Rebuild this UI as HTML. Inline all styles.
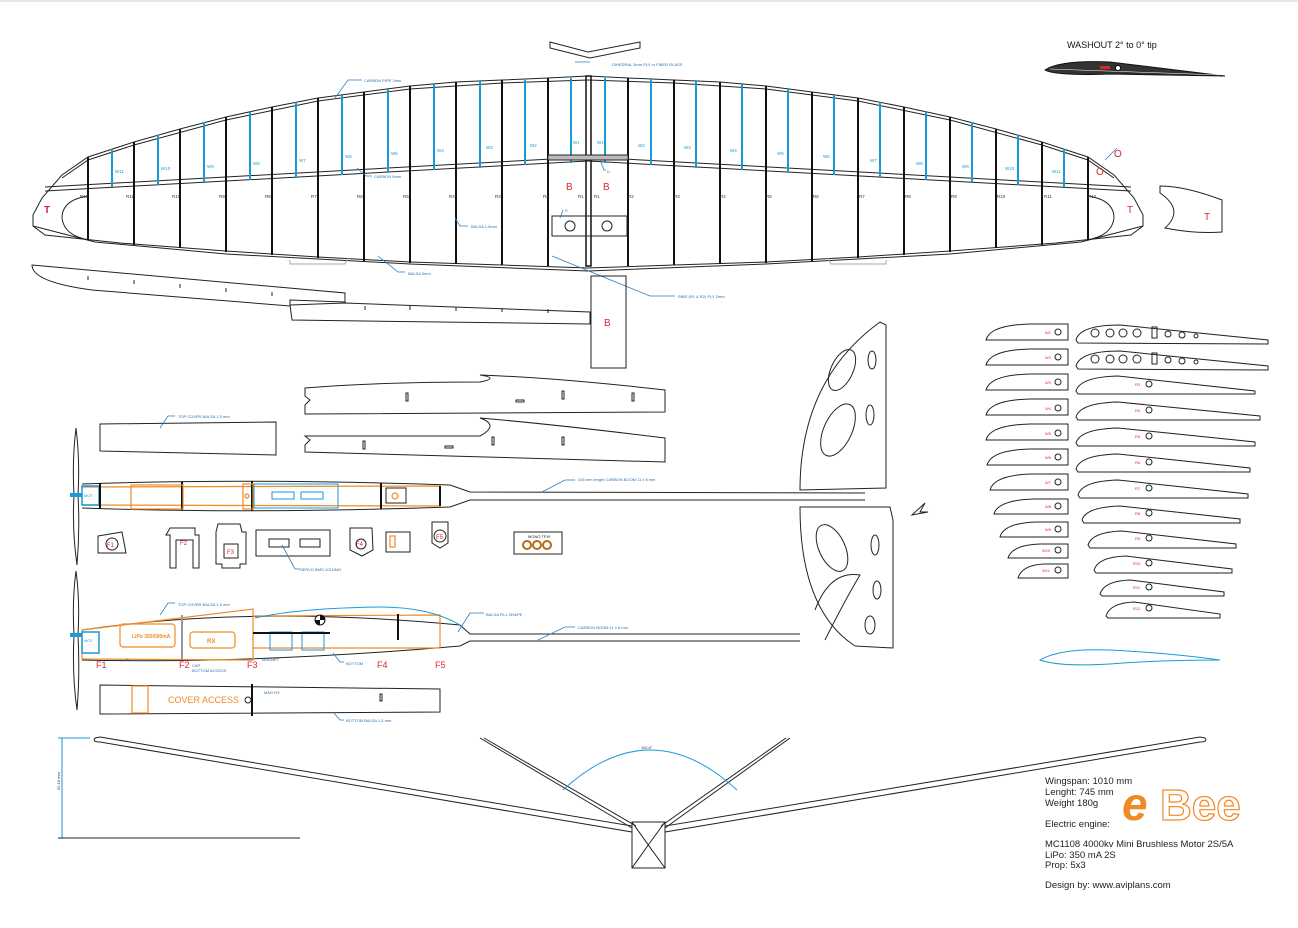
<!DOCTYPE html>
<html><head><meta charset="utf-8"><style>
html,body{margin:0;padding:0;background:#fff;}
svg{display:block;font-family:"Liberation Sans",sans-serif;}
.k{stroke:#222;fill:none;stroke-width:1}
.kt{stroke:#111;fill:none;stroke-width:2}
.b{stroke:#1a9ad6;fill:none;stroke-width:2}
.bl{stroke:#2a7fc0;fill:none;stroke-width:0.8}
.o{stroke:#f08a24;fill:none;stroke-width:1.2}
.t{font-size:4.5px;fill:#333}
.tb{font-size:4.5px;fill:#1a9ad6}
.tl{font-size:4px;fill:#2a6fb0}
.r{fill:#e0252e;font-size:10px}
</style></head><body>
<svg width="1298" height="928" viewBox="0 0 1298 928">
<rect width="1298" height="928" fill="#fff"/>
<line x1="0" y1="1" x2="1298" y2="1" stroke="#ccc"/>

<!-- ===== WING TOP VIEW ===== -->
<g id="wl">
<path class="k" d="M588,76 L548,78 502,80 456,82 410,86 364,92 318,98 272,107 226,117 180,129 134,142 88,157 62,175 42,198 33,215 33,226 45,235 120,243 226,251 318,257 410,262 502,265 588,268"/>
<path class="k" d="M588,80 L502,83 410,89 318,101 226,120 134,145 88,160 62,178"/>
<path class="k" d="M45,187 L588,157 M45,191 L588,161"/>
<path class="k" d="M88,196 Q62,200 62,218 Q64,236 90,240"/>
<path class="k" d="M33,226 L95,242 L226,254 L410,264 L588,271" />
<g class="kt">
<line x1="88" y1="157" x2="88" y2="240"/><line x1="134" y1="142" x2="134" y2="245"/>
<line x1="180" y1="129" x2="180" y2="248"/><line x1="226" y1="117" x2="226" y2="252"/>
<line x1="272" y1="107" x2="272" y2="255"/><line x1="318" y1="98" x2="318" y2="258"/>
<line x1="364" y1="92" x2="364" y2="261"/><line x1="410" y1="86" x2="410" y2="263"/>
<line x1="456" y1="82" x2="456" y2="264"/><line x1="502" y1="80" x2="502" y2="265"/>
<line x1="548" y1="78" x2="548" y2="266"/>
</g>
<g class="b">
<line x1="112" y1="149" x2="112" y2="187"/><line x1="158" y1="135" x2="158" y2="185"/>
<line x1="204" y1="122" x2="204" y2="182"/><line x1="250" y1="111" x2="250" y2="180"/>
<line x1="296" y1="102" x2="296" y2="178"/><line x1="342" y1="95" x2="342" y2="175"/>
<line x1="388" y1="89" x2="388" y2="173"/><line x1="434" y1="84" x2="434" y2="170"/>
<line x1="480" y1="81" x2="480" y2="168"/><line x1="525" y1="79" x2="525" y2="165"/>
<line x1="571" y1="78" x2="571" y2="163"/>
</g>
<path d="M290,260 L290,264 L345,264 L348,258" stroke="#aaa" fill="none"/>
</g>
<use href="#wl" transform="translate(1176,0) scale(-1,1)"/>
<!-- centre -->
<rect x="586" y="76" width="5" height="190" fill="none" stroke="#111" stroke-width="1.5"/>
<rect x="548" y="155" width="80" height="5" fill="#bbb" stroke="#222"/>
<rect x="552" y="216" width="75" height="20" class="k"/>
<circle cx="570" cy="226" r="5" class="k"/><circle cx="607" cy="226" r="5" class="k"/>
<text x="566" y="190" class="r" font-size="9">B</text><text x="603" y="190" class="r" font-size="9">B</text>
<text x="44" y="213" class="r" font-size="11" font-weight="bold">T</text>
<text x="1127" y="213" class="r" font-size="6">T</text>
<text x="1114" y="157" class="r" font-size="6">O</text><text x="1096" y="175" class="r" font-size="6">O</text>
<g class="t">
<text x="80" y="198">R12</text><text x="126" y="198">R11</text><text x="172" y="198">R10</text><text x="219" y="198">R9</text>
<text x="265" y="198">R8</text><text x="311" y="198">R7</text><text x="357" y="198">R6</text><text x="403" y="198">R5</text>
<text x="449" y="198">R4</text><text x="495" y="198">R3</text><text x="543" y="198">R2</text><text x="578" y="198">R1</text>
<text x="594" y="198">R1</text><text x="628" y="198">R2</text><text x="674" y="198">R3</text><text x="720" y="198">R4</text>
<text x="766" y="198">R5</text><text x="813" y="198">R6</text><text x="859" y="198">R7</text><text x="905" y="198">R8</text>
<text x="951" y="198">R9</text><text x="997" y="198">R10</text><text x="1044" y="198">R11</text><text x="1088" y="198">R12</text>
</g>
<g class="tb">
<text x="115" y="173">W11</text><text x="161" y="170">W10</text><text x="207" y="168">W9</text><text x="253" y="165">W8</text>
<text x="299" y="162">W7</text><text x="345" y="158">W6</text><text x="391" y="155">W5</text><text x="437" y="152">W4</text>
<text x="486" y="149">W3</text><text x="530" y="147">W2</text><text x="573" y="144">W1</text><text x="597" y="144">W1</text>
<text x="638" y="147">W2</text><text x="684" y="149">W3</text><text x="730" y="152">W4</text><text x="777" y="155">W5</text>
<text x="823" y="158">W6</text><text x="870" y="162">W7</text><text x="916" y="165">W8</text><text x="962" y="168">W9</text>
<text x="1005" y="170">W10</text><text x="1052" y="173">W11</text>
</g>
<g class="bl"><path d="M335,98 L348,80 L362,80"/><path d="M357,168 L366,176 L372,176"/><path d="M378,256 L398,272 L405,272"/>
<path d="M552,256 L650,296 L675,296"/><path d="M455,218 L460,226 L468,226"/><path d="M600,160 L604,170 L606,170"/>
<path d="M575,62 L590,62 M560,218 L563,210"/><path d="M1105,160 L1117,148"/></g>
<g class="tl"><text x="364" y="82">CARBON PIPE 2mm</text><text x="374" y="178">CARBON 5mm</text><text x="408" y="275">BALSA 3mm</text>
<text x="678" y="298">RIBS (R1 &amp; R2) PLY 2mm</text><text x="471" y="228">BALSA 1,5mm</text><text x="607" y="173">D</text><text x="565" y="212">S</text>
<text x="612" y="66">DIHEDRAL 3mm PLY or FIBER GLASS</text></g>

<!-- dihedral piece -->
<path class="k" d="M550,42 L588,52 L640,42 L640,48 L590,58 L550,48 Z"/>
<!-- washout -->
<text x="1067" y="48" font-size="9" fill="#111">WASHOUT 2° to 0° tip</text>
<path d="M1045,70 Q1060,60 1110,62 L1225,76 L1110,74 Q1055,76 1045,70Z" fill="#333" stroke="#111"/>
<path d="M1050,69 L1220,75" stroke="#fff" stroke-width="0.5"/>
<rect x="1100" y="66" width="10" height="3" fill="#e0252e"/><circle cx="1118" cy="68" r="2.5" fill="#fff" stroke="#111"/>
<!-- tip piece -->
<path class="k" d="M1160,186 Q1185,186 1222,200 L1222,232 Q1195,234 1165,228 Q1185,210 1160,193Z"/>
<text x="1204" y="220" class="r" font-size="6">T</text>

<!-- spar strips -->
<path class="k" d="M32,265 L345,293 L345,302 L290,300 L290,306 L92,290 Q32,282 32,265Z"/>
<path class="k" d="M290,305 L345,303 L590,312 L590,324 L292,320Z"/>
<g class="k"><line x1="88" y1="276" x2="88" y2="280"/><line x1="134" y1="280" x2="134" y2="284"/><line x1="180" y1="284" x2="180" y2="288"/><line x1="226" y1="288" x2="226" y2="292"/><line x1="272" y1="292" x2="272" y2="296"/><line x1="365" y1="306" x2="365" y2="310"/><line x1="410" y1="306" x2="410" y2="310"/><line x1="456" y1="307" x2="456" y2="311"/><line x1="502" y1="308" x2="502" y2="312"/><line x1="548" y1="309" x2="548" y2="313"/></g>
<rect x="591" y="276" width="35" height="92" class="k"/>
<text x="604" y="326" class="r" font-size="9">B</text>

<!-- airfoil ribs stack -->
<g class="k">
<path d="M986,340 Q990,325 1030,324 L1068,324 L1068,340Z"/><path d="M986,365 Q990,350 1030,349 L1068,349 L1068,365Z"/>
<path d="M986,390 Q990,375 1030,374 L1068,374 L1068,390Z"/><path d="M986,415 Q990,400 1030,399 L1068,399 L1068,415Z"/>
<path d="M986,440 Q990,425 1030,424 L1068,424 L1068,440Z"/><path d="M987,465 Q991,450 1030,449 L1068,449 L1068,465Z"/>
<path d="M990,490 Q994,475 1032,474 L1068,474 L1068,490Z"/><path d="M994,514 Q998,500 1034,499 L1068,499 L1068,514Z"/>
<path d="M1000,537 Q1004,523 1036,522 L1068,522 L1068,537Z"/><path d="M1008,558 Q1012,545 1040,544 L1068,544 L1068,558Z"/>
<path d="M1018,578 Q1022,565 1044,564 L1068,564 L1068,578Z"/>
<path d="M1076,340 Q1080,325 1120,325 L1268,340 L1268,344 L1078,343Z"/><path d="M1076,366 Q1080,351 1120,351 L1268,366 L1268,370 L1078,369Z"/>
<path d="M1076,391 Q1080,377 1118,376 L1255,391 L1255,394 L1078,394Z"/><path d="M1076,417 Q1080,403 1118,402 L1260,416 L1260,420 L1078,420Z"/>
<path d="M1076,443 Q1080,429 1118,428 L1255,442 L1255,446 L1078,446Z"/><path d="M1076,469 Q1080,455 1118,454 L1250,468 L1250,472 L1078,472Z"/>
<path d="M1078,495 Q1082,481 1118,480 L1248,494 L1248,498 L1080,498Z"/><path d="M1082,520 Q1086,507 1120,506 L1240,519 L1240,523 L1084,523Z"/>
<path d="M1088,545 Q1092,532 1122,531 L1236,544 L1236,548 L1090,548Z"/><path d="M1094,570 Q1098,557 1126,556 L1232,569 L1232,573 L1096,573Z"/>
<path d="M1100,594 Q1104,581 1130,580 L1224,592 L1224,596 L1102,596Z"/><path d="M1106,616 Q1110,603 1134,602 L1220,614 L1220,618 L1108,618Z"/>
</g>
<g fill="none" stroke="#222"><circle cx="1058" cy="332" r="3"/><circle cx="1058" cy="357" r="3"/><circle cx="1058" cy="382" r="3"/><circle cx="1058" cy="408" r="3"/><circle cx="1058" cy="433" r="3"/><circle cx="1058" cy="457" r="3"/><circle cx="1058" cy="482" r="3"/><circle cx="1058" cy="506" r="3"/><circle cx="1058" cy="529" r="3"/><circle cx="1058" cy="550" r="3"/><circle cx="1058" cy="570" r="3"/>
<circle cx="1095" cy="333" r="4"/><circle cx="1110" cy="333" r="4"/><circle cx="1123" cy="333" r="4"/><circle cx="1137" cy="333" r="4"/><rect x="1152" y="327" width="5" height="11"/><circle cx="1168" cy="334" r="3"/><circle cx="1182" cy="335" r="3"/><circle cx="1196" cy="336" r="2"/>
<circle cx="1095" cy="359" r="4"/><circle cx="1110" cy="359" r="4"/><circle cx="1123" cy="359" r="4"/><circle cx="1137" cy="359" r="4"/><rect x="1152" y="353" width="5" height="11"/><circle cx="1168" cy="360" r="3"/><circle cx="1182" cy="361" r="3"/><circle cx="1196" cy="362" r="2"/>
<circle cx="1149" cy="384" r="3"/><circle cx="1149" cy="410" r="3"/><circle cx="1149" cy="436" r="3"/><circle cx="1149" cy="462" r="3"/><circle cx="1149" cy="488" r="3"/><circle cx="1149" cy="513" r="3"/><circle cx="1149" cy="538" r="3"/><circle cx="1149" cy="563" r="3"/><circle cx="1149" cy="587" r="3"/><circle cx="1149" cy="608" r="3"/></g>
<g fill="#e0252e" font-size="4">
<text x="1045" y="334">W1</text><text x="1045" y="359">W2</text><text x="1045" y="384">W3</text><text x="1045" y="410">W4</text><text x="1045" y="435">W5</text><text x="1045" y="459">W6</text><text x="1045" y="484">W7</text><text x="1045" y="508">W8</text><text x="1045" y="531">W9</text><text x="1042" y="552">W10</text><text x="1042" y="572">W11</text>
<text x="1135" y="386">R3</text><text x="1135" y="412">R4</text><text x="1135" y="438">R5</text><text x="1135" y="464">R6</text><text x="1135" y="490">R7</text><text x="1135" y="515">R8</text><text x="1135" y="540">R9</text><text x="1133" y="565">R10</text><text x="1133" y="589">R11</text><text x="1133" y="610">R12</text></g>

<!-- fuselage side pieces -->
<path class="k" d="M305,388 Q380,382 480,382 Q500,378 480,375 Q560,378 665,390 L665,412 L305,414 L305,405 L310,400 L305,396Z"/>
<path class="k" d="M305,436 L480,436 Q500,425 480,418 Q560,425 665,438 L665,462 L305,452 L305,445 L310,440Z"/>
<g class="k"><rect x="406" y="393" width="2" height="8"/><rect x="516" y="400" width="8" height="2"/><rect x="562" y="391" width="2" height="8"/><rect x="632" y="393" width="2" height="8"/>
<rect x="363" y="441" width="2" height="8"/><rect x="445" y="446" width="8" height="2"/><rect x="492" y="437" width="2" height="8"/><rect x="562" y="437" width="2" height="8"/></g>
<!-- top cover -->
<path class="k" d="M100,424 L276,422 L276,455 L100,451Z"/>
<path class="bl" d="M160,428 L168,416 L175,416"/><text x="178" y="418" class="tl">TOP COVER BALSA 1,5 mm</text>

<!-- propellers -->
<path d="M76,428 Q72,460 74,495 Q72,530 77,565 Q80,530 78,495 Q80,460 76,428Z" fill="#fff" stroke="#222"/>
<path d="M76,571 Q72,600 74,635 Q72,675 77,710 Q80,675 78,635 Q80,600 76,571Z" fill="#fff" stroke="#222"/>
<rect x="70" y="493" width="12" height="4" fill="#1a9ad6"/><rect x="70" y="633" width="12" height="4" fill="#1a9ad6"/>

<!-- fuselage top view -->
<path class="k" d="M82,484 Q250,478 450,485 L470,492 L865,493 M82,508 Q250,514 450,507 L470,500 L865,500"/>
<path class="o" d="M82,487 L440,486 L440,506 L82,505"/>
<rect x="82" y="486" width="17" height="19" fill="none" stroke="#1a9ad6" stroke-width="1.5"/><text x="84" y="497" font-size="4" fill="#1a9ad6">MOT</text>
<line x1="100" y1="483" x2="100" y2="509" class="kt"/><line x1="182" y1="482" x2="182" y2="510" class="kt"/><line x1="252" y1="481" x2="252" y2="511" class="kt"/><line x1="381" y1="483" x2="381" y2="509" class="kt"/><line x1="440" y1="486" x2="440" y2="506" class="kt"/>
<rect x="131" y="485" width="52" height="24" class="o"/><rect x="243" y="484" width="10" height="25" class="o"/>
<circle cx="247" cy="496" r="2" class="o"/>
<rect x="254" y="484" width="84" height="24" fill="none" stroke="#1a9ad6"/><rect x="272" y="492" width="22" height="7" fill="none" stroke="#1a9ad6"/><rect x="301" y="492" width="22" height="7" fill="none" stroke="#1a9ad6"/>
<rect x="386" y="488" width="20" height="15" class="k"/><circle cx="395" cy="496" r="3" class="o"/>
<path class="bl" d="M540,493 L565,480 L575,480"/><text x="578" y="481" class="tl">435 mm lenght CARBON BOOM 11 x 8 mm</text>

<!-- vertical tail -->
<path class="k" d="M800,490 Q800,380 880,322 L886,325 L886,488Z"/>
<path class="k" d="M800,507 L890,507 L893,520 L893,648 L855,646 Q800,610 800,507Z"/>
<g class="k"><ellipse cx="842" cy="370" rx="11" ry="22" transform="rotate(25 842 370)"/><ellipse cx="838" cy="430" rx="14" ry="28" transform="rotate(25 838 430)"/><ellipse cx="872" cy="360" rx="4" ry="9"/><ellipse cx="870" cy="415" rx="4" ry="10"/>
<ellipse cx="832" cy="548" rx="13" ry="25" transform="rotate(-25 832 548)"/><ellipse cx="875" cy="545" rx="4" ry="10"/><ellipse cx="877" cy="590" rx="4" ry="9"/><ellipse cx="870" cy="625" rx="5" ry="9"/>
<path d="M815,610 Q830,570 860,575 Q845,600 825,640"/></g>
<path class="k" d="M912,515 L925,503 L920,512 L928,512Z"/>

<!-- formers row -->
<g class="k">
<path d="M98,536 L122,532 L126,553 L98,553Z"/><circle cx="112" cy="544" r="6"/>
<path d="M170,528 L195,528 L195,535 L199,535 L199,568 L193,568 L193,540 L176,540 L176,568 L170,568 L170,535 L166,535Z"/>
<path d="M218,524 L240,524 L242,532 L246,532 L246,564 L240,564 L240,568 L222,568 L222,564 L216,564 L216,532Z"/><rect x="224" y="544" width="14" height="14"/>
<rect x="256" y="530" width="74" height="26"/><rect x="269" y="539" width="20" height="8"/><rect x="300" y="539" width="20" height="8"/>
<path d="M350,528 L372,528 L373,550 L362,556 L350,550Z"/><circle cx="361" cy="544" r="5"/>
<rect x="386" y="532" width="24" height="20"/><rect x="390" y="536" width="5" height="11" class="o"/>
<path d="M432,522 L448,522 L448,543 L440,548 L432,543Z"/><circle cx="440" cy="536" r="6"/>
<rect x="514" y="532" width="48" height="22"/>
</g>
<g fill="#e0252e" font-size="6"><text x="107" y="547">F1</text><text x="180" y="545">F2</text><text x="227" y="554">F3</text><text x="356" y="546">F4</text><text x="436" y="539">F5</text></g>
<g fill="none" stroke="#b56a1a" stroke-width="2"><circle cx="527" cy="545" r="4"/><circle cx="537" cy="545" r="4"/><circle cx="547" cy="545" r="4"/></g>
<text x="528" y="538" font-size="4" fill="#222">MONO TPIX</text>
<path class="bl" d="M282,545 L295,569 L300,569"/><text x="300" y="571" class="tl">SERVO BMS-101DMG</text>

<!-- fuselage side view -->
<path class="k" d="M82,630 Q250,605 460,625 L470,634 L800,634 M82,660 Q250,664 460,646 L470,641 L800,641"/>
<path class="o" d="M82,630 L253,609 L253,660 L82,659Z"/>
<path class="o" d="M253,616 L440,615 L440,648 L253,648"/>
<path d="M255,618 Q300,608 380,607 Q430,607 460,625" stroke="#1a9ad6" fill="none"/>
<rect x="120" y="624" width="55" height="23" rx="3" class="o"/><text x="132" y="638" font-size="5" fill="#f08a24" font-weight="bold">LiPo 350/500mA</text>
<rect x="190" y="632" width="45" height="16" rx="3" class="o"/><text x="207" y="643" font-size="6" fill="#f08a24" font-weight="bold">RX</text>
<rect x="82" y="632" width="17" height="21" fill="none" stroke="#1a9ad6" stroke-width="1.5"/><text x="84" y="642" font-size="4" fill="#1a9ad6">MOT</text>
<line x1="182" y1="615" x2="182" y2="660" stroke="#999" stroke-width="2"/>
<rect x="270" y="632" width="22" height="18" fill="none" stroke="#1a9ad6"/><rect x="302" y="632" width="22" height="18" fill="none" stroke="#1a9ad6"/>
<line x1="253" y1="633" x2="330" y2="633" class="kt"/>
<circle cx="320" cy="620" r="5" fill="#fff" stroke="#111"/><path d="M320,615 A5,5 0 0 1 325,620 L320,620Z M320,625 A5,5 0 0 1 315,620 L320,620Z" fill="#111"/>
<line x1="398" y1="614" x2="398" y2="640" class="kt"/>
<g fill="#e0252e" font-size="9"><text x="96" y="668">F1</text><text x="179" y="668">F2</text><text x="247" y="668">F3</text><text x="377" y="668">F4</text><text x="435" y="668">F5</text></g>
<g class="tl"><text x="178" y="606">TOP COVER BALSA 1,5 mm</text><text x="486" y="616">BALSA FILL SHAPE</text><text x="578" y="629">CARBON BOOM 11 x 8 mm</text>
<text x="262" y="661">MAGNET</text><text x="346" y="665">BOTTOM</text><text x="192" y="667">CAP</text><text x="192" y="672">BOTTOM ACCESS</text><text x="126" y="661">P</text></g>
<g class="bl"><path d="M160,615 L168,603 L175,603"/><path d="M458,632 L470,613 L484,613"/><path d="M538,640 L565,627 L575,627"/><path d="M333,653 L340,662 L344,662"/></g>

<!-- cover access -->
<path class="k" d="M100,685 L440,689 L440,712 L100,714Z"/><line x1="252" y1="684" x2="252" y2="716" class="kt"/>
<rect x="132" y="686" width="16" height="27" class="o"/>
<text x="168" y="703" font-size="9" fill="#f08a24">COVER ACCESS</text>
<circle cx="248" cy="700" r="3" class="k"/><rect x="380" y="694" width="2" height="7" class="k"/>
<g class="tl"><text x="264" y="694">MAG RX</text><text x="346" y="722">BOTTOM BALSA 1,5 mm</text></g>
<path class="bl" d="M333,712 L340,720 L344,720"/>

<!-- front view -->
<path class="k" d="M95,738 Q92,742 100,742 L632,832 L632,826 L100,737Z"/>
<path class="k" d="M1205,738 Q1208,742 1200,742 L665,832 L665,826 L1200,737Z"/>
<path class="k" d="M480,738 L632,828 M484,738 L636,826 M790,738 L665,828 M786,738 L661,826"/>
<path d="M563,790 Q650,710 737,790" stroke="#1a9ad6" fill="none"/>
<text x="641" y="749" font-size="4" fill="#333">110.6°</text>
<rect x="632" y="822" width="33" height="46" class="k"/><path class="k" d="M632,822 Q648,845 665,868 M665,822 Q648,845 632,868"/>
<line x1="62" y1="738" x2="62" y2="838" stroke="#1a9ad6"/><line x1="58" y1="738" x2="90" y2="738" stroke="#1a9ad6"/>
<line x1="58" y1="838" x2="300" y2="838" stroke="#222"/><text x="60" y="790" font-size="4" fill="#333" transform="rotate(-90 60 790)">92.16 mm</text>

<!-- blue airfoil -->
<path d="M1040,660 Q1060,648 1110,650 Q1170,653 1220,660 Q1160,660 1110,664 Q1060,667 1040,660Z" fill="none" stroke="#1a9ad6"/>

<!-- specs -->
<g font-size="9.5" fill="#222">
<text x="1045" y="784">Wingspan: 1010 mm</text><text x="1045" y="795">Lenght: 745 mm</text><text x="1045" y="806">Weight 180g</text>
<text x="1045" y="827">Electric engine:</text>
<text x="1045" y="847">MC1108 4000kv Mini Brushless Motor 2S/5A</text><text x="1045" y="858">LiPo: 350 mA 2S</text><text x="1045" y="868">Prop: 5x3</text>
<text x="1045" y="888">Design by: www.aviplans.com</text>
</g>
<text x="1122" y="820" font-size="46" font-weight="bold" fill="#f08a24" font-style="italic">e</text>
<text x="1160" y="820" font-size="44" fill="none" stroke="#f08a24" stroke-width="1.2" font-weight="bold">Bee</text>
</svg>
</body></html>
